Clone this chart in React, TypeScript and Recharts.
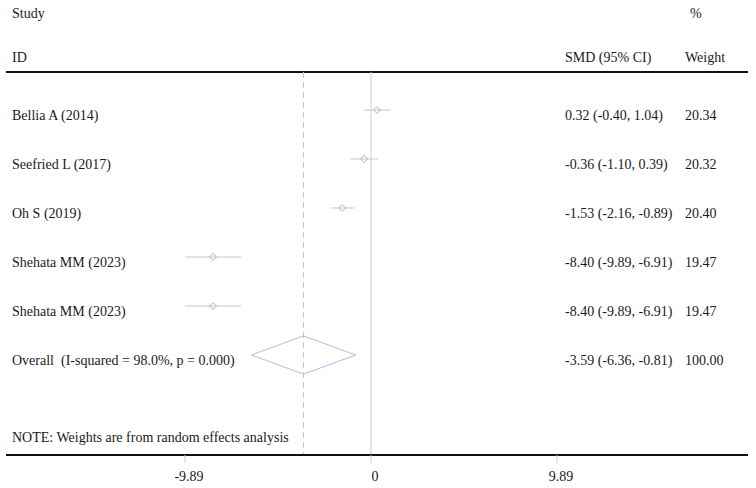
import {
    ComposedChart,
    Scatter,
    XAxis,
    YAxis,
    ErrorBar,
    ReferenceLine,
} from "recharts";

const studies = ["Bellia A (2014)", "Seefried L (2017)", "Oh S (2019)", "Shehata MM (2023)", "Shehata MM (2023)"];
const smd = [0.32, -0.36, -1.53, -8.4, -8.4];
const lower = [-0.4, -1.1, -2.16, -9.89, -9.89];
const upper = [1.04, 0.39, -0.89, -6.91, -6.91];
const weights = [20.34, 20.32, 20.4, 19.47, 19.47];

const overallLabel = "Overall\u00a0\u00a0(I-squared = 98.0%, p = 0.000)";
const overallSmd = -3.59;
const overallLower = -6.36;
const overallUpper = -0.81;
const overallWeight = 100.0;

const xTicks = [-9.89, 0, 9.89];

const FONT = "'Liberation Serif', 'Times New Roman', serif";
const TEXT = "#1a1a1a";
const COL_ID = 12;
const COL_SMD = 565;
const COL_W = 685;

const ciText = (e: number, l: number, u: number) =>
    `${e.toFixed(2)} (${l.toFixed(2)}, ${u.toFixed(2)})`;

const studyRows = studies.map((name, i) => ({
    x: smd[i],
    y: i + 1,
    err: [smd[i] - lower[i], upper[i] - smd[i]],
    name,
    ci: ciText(smd[i], lower[i], upper[i]),
    weight: weights[i].toFixed(2),
}));

const overallY = studies.length + 1;
const halfH = 0.39;
const overallDiamond = [
    { x: overallLower, y: overallY },
    { x: overallSmd, y: overallY - halfH },
    { x: overallUpper, y: overallY },
    { x: overallSmd, y: overallY + halfH },
    { x: overallLower, y: overallY },
];
const overallRow = [
    {
        x: overallSmd,
        y: overallY,
        name: overallLabel,
        ci: ciText(overallSmd, overallLower, overallUpper),
        weight: overallWeight.toFixed(2),
    },
];

const RowText = ({ cy, payload }: any) => (
    <g fontFamily={FONT} fontSize={14} fill={TEXT}>
        <text x={COL_ID} y={cy + 10}>{payload.name}</text>
        <text x={COL_SMD} y={cy + 10}>{payload.ci}</text>
        <text x={COL_W} y={cy + 10}>{payload.weight}</text>
    </g>
);

const StudyMark = (props: any) => {
    const { cx, cy } = props;
    const r = 3.5;
    return (
        <g>
            <path
                d={`M${cx - r},${cy} L${cx},${cy - r} L${cx + r},${cy} L${cx},${cy + r} Z`}
                fill="none"
                stroke="#b4b4b4"
                strokeWidth={1}
            />
            <RowText {...props} />
        </g>
    );
};

const Empty = () => <g />;

const headerStyle = {
    position: "absolute" as const,
    fontFamily: FONT,
    fontSize: 14,
    lineHeight: "14px",
    color: TEXT,
    whiteSpace: "nowrap" as const,
};

const ForestPlot = () => {
    return (
        <div style={{ position: "absolute", left: 0, top: 0, width: 756, height: 488, background: "#fff" }}>
            <ComposedChart width={756} height={488} margin={{ top: 0, right: 8, bottom: 0, left: 6 }}>
                <XAxis
                    type="number"
                    dataKey="x"
                    domain={[-19.408, 20.046]}
                    allowDataOverflow
                    ticks={xTicks}
                    tickFormatter={(v: number) => (v === 0 ? "0" : v.toFixed(2))}
                    height={33}
                    tickSize={8}
                    tickMargin={8}
                    tickLine={{ stroke: "#c8c8c8" }}
                    axisLine={{ stroke: "#111", strokeWidth: 2 }}
                    tick={{ fontFamily: FONT, fontSize: 14, fill: TEXT, dx: 4 }}
                />
                <YAxis type="number" dataKey="y" domain={[-1.245, 8.041]} allowDataOverflow reversed hide />
                <ReferenceLine y={0.224} stroke="#111" strokeWidth={2} />
                <ReferenceLine
                    segment={[{ x: 0, y: 0.224 }, { x: 0, y: 8.041 }]}
                    stroke="#cccccc"
                    strokeWidth={1}
                />
                <ReferenceLine
                    segment={[{ x: overallSmd, y: 0.224 }, { x: overallSmd, y: 8.041 }]}
                    stroke="#eab4c0"
                    strokeDasharray="6 4"
                    strokeWidth={1}
                />
                <Scatter data={studyRows} shape={<StudyMark />} isAnimationActive={false}>
                    <ErrorBar dataKey="err" direction="x" width={0} stroke="#c8c8c8" strokeWidth={1} />
                </Scatter>
                <Scatter
                    data={overallDiamond}
                    line={{ stroke: "#b8b8e8", strokeWidth: 1 }}
                    lineType="joint"
                    shape={<Empty />}
                    isAnimationActive={false}
                />
                <Scatter data={overallRow} shape={<RowText />} isAnimationActive={false} />
            </ComposedChart>
            <div style={{ ...headerStyle, left: COL_ID, top: 7 }}>Study</div>
            <div style={{ ...headerStyle, left: 690, top: 7 }}>%</div>
            <div style={{ ...headerStyle, left: COL_ID, top: 51 }}>ID</div>
            <div style={{ ...headerStyle, left: COL_SMD, top: 51 }}>SMD (95% CI)</div>
            <div style={{ ...headerStyle, left: COL_W, top: 51 }}>Weight</div>
            <div style={{ ...headerStyle, left: COL_ID, top: 431 }}>NOTE: Weights are from random effects analysis</div>
        </div>
    );
};

export default function App() {
    return <ForestPlot />;
}
